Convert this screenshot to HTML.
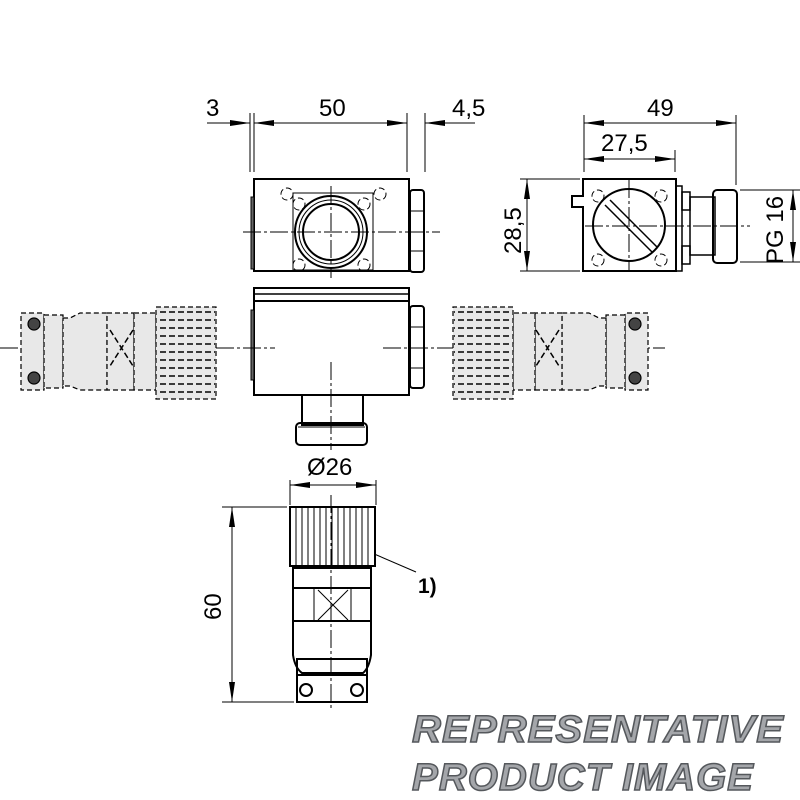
<!DOCTYPE html>
<html><head><style>body{margin:0;background:#fff}svg{display:block}
.w{font-family:"Liberation Sans",sans-serif;font-style:italic;font-weight:bold;font-size:38px;fill:#a4a6aa;stroke:#55585c;stroke-width:1.5;letter-spacing:1px}
</style></head><body>
<svg width="800" height="800" viewBox="0 0 800 800" xmlns="http://www.w3.org/2000/svg">
<defs>
<marker id="b" viewBox="0 0 20 6" refX="20" refY="3" markerWidth="20" markerHeight="6" orient="auto-start-reverse" markerUnits="userSpaceOnUse"><path d="M0,0L20,3L0,6z" fill="#000"/></marker>
</defs>
<g font-family="Liberation Sans,sans-serif" font-size="24" fill="#000">
<g stroke="#000" stroke-width="1">
<line x1="250" y1="113" x2="250" y2="172"/><line x1="254" y1="113" x2="254" y2="172"/>
<line x1="407" y1="113" x2="407" y2="172"/><line x1="425" y1="113" x2="425" y2="172"/>
<line x1="207" y1="123" x2="250" y2="123" marker-end="url(#b)"/>
<line x1="254" y1="123" x2="407" y2="123" marker-start="url(#b)" marker-end="url(#b)"/>
<line x1="475" y1="123" x2="425" y2="123" marker-end="url(#b)"/>
<line x1="584" y1="115" x2="584" y2="172"/><line x1="736" y1="115" x2="736" y2="185"/><line x1="675" y1="150" x2="675" y2="172"/>
<line x1="584" y1="123" x2="736" y2="123" marker-start="url(#b)" marker-end="url(#b)"/>
<line x1="584" y1="159" x2="675" y2="159" marker-start="url(#b)" marker-end="url(#b)"/>
<line x1="520" y1="179" x2="580" y2="179"/><line x1="520" y1="271" x2="580" y2="271"/>
<line x1="527" y1="179" x2="527" y2="271" marker-start="url(#b)" marker-end="url(#b)"/>
<line x1="740" y1="190" x2="800" y2="190"/><line x1="740" y1="262" x2="800" y2="262"/>
<line x1="793" y1="190" x2="793" y2="262" marker-start="url(#b)" marker-end="url(#b)"/>
</g>
<text x="206" y="116">3</text><text x="319" y="116">50</text><text x="452" y="116">4,5</text>
<text x="647" y="116">49</text><text x="601" y="151">27,5</text>
<text transform="translate(521,254) rotate(-90)">28,5</text>
<text transform="translate(783,264) rotate(-90)">PG 16</text>

<g stroke="#000" fill="none" stroke-width="2">
<rect x="254" y="179" width="155" height="92" fill="#fff"/>
<rect x="251" y="197" width="3" height="72" fill="#666" stroke-width="1"/>
<rect x="410" y="190" width="14" height="82" rx="3"/>
<line x1="410" y1="211" x2="424" y2="211" stroke-width="1"/><line x1="410" y1="251" x2="424" y2="251" stroke-width="1"/>
<circle cx="331" cy="232" r="36"/><circle cx="331" cy="232" r="32" stroke-width="1"/><circle cx="331" cy="232" r="28"/>
<path d="M293,193 H373 V270 H293z" stroke-width="1"/>
<g stroke-width="1" stroke-dasharray="6,3">
<circle cx="287" cy="194" r="6"/><circle cx="380" cy="194" r="6"/><circle cx="299" cy="204" r="6"/><circle cx="364" cy="204" r="6"/>
<circle cx="299" cy="265" r="6"/><circle cx="364" cy="265" r="6"/></g>
<g stroke-width="1" stroke-dasharray="18,3,3,3">
<line x1="243" y1="232" x2="440" y2="232"/><line x1="331" y1="186" x2="331" y2="278"/></g>
</g>
<g stroke="#000" fill="none" stroke-width="2">
<rect x="254" y="288" width="155" height="107" fill="#fff"/>
<line x1="254" y1="294" x2="409" y2="294" stroke-width="1.5"/><line x1="254" y1="301" x2="409" y2="301"/>
<rect x="251" y="310" width="3" height="70" fill="#666" stroke-width="1"/>
<rect x="410" y="306" width="14" height="82" rx="3"/>
<line x1="410" y1="327" x2="424" y2="327" stroke-width="1"/><line x1="410" y1="368" x2="424" y2="368" stroke-width="1"/>
<rect x="302" y="395" width="61" height="30"/>
<rect x="296" y="423" width="71" height="22" rx="4"/>
<line x1="298" y1="427" x2="365" y2="427" stroke-width="1"/>
<g stroke-width="1" stroke-dasharray="18,3,3,3">
<line x1="0" y1="348" x2="275" y2="348"/><line x1="383" y1="348" x2="665" y2="348"/><line x1="331" y1="362" x2="331" y2="450"/></g>
</g>
<g id="dc" stroke="#000" fill="#e8e8e8" stroke-width="1.2" stroke-dasharray="5,3">
<rect x="21" y="313" width="23" height="77"/>
<rect x="44" y="315" width="19" height="73"/>
<path d="M63,318 H70 L80,313 H107 V390 H80 L70,386 H63z"/>
<rect x="107" y="313" width="27" height="77"/>
<rect x="134" y="313" width="22" height="77"/>
<rect x="156" y="307" width="60" height="92"/>
<g fill="none" stroke-width="1.5" stroke-dasharray="6,3">
<line x1="160" y1="312" x2="215" y2="312"/><line x1="160" y1="320" x2="215" y2="320"/><line x1="160" y1="328" x2="215" y2="328"/><line x1="160" y1="336" x2="215" y2="336"/><line x1="160" y1="344" x2="215" y2="344"/><line x1="160" y1="352" x2="215" y2="352"/><line x1="160" y1="360" x2="215" y2="360"/><line x1="160" y1="368" x2="215" y2="368"/><line x1="160" y1="376" x2="215" y2="376"/><line x1="160" y1="384" x2="215" y2="384"/><line x1="160" y1="392" x2="215" y2="392"/>
<path d="M110,330 L133,366 M133,330 L110,366"/></g>
<circle cx="34" cy="324" r="6" fill="#444" stroke-dasharray="none"/><circle cx="34" cy="378" r="6" fill="#444" stroke-dasharray="none"/>
</g>
<use href="#dc" transform="translate(669,0) scale(-1,1)"/>
<g stroke="#000" fill="none" stroke-width="2">
<path d="M583,179 H676 V271 H583 V207 H572 V196 H583z" fill="#fff"/>
<circle cx="629" cy="225" r="36"/>
<path d="M605,205 L652,252 M610,200 L657,247" stroke-width="1.5"/>
<rect x="676" y="186" width="6" height="85" stroke-width="1.5"/>
<rect x="682" y="192" width="8" height="18" stroke-width="1.5"/><rect x="682" y="246" width="8" height="18" stroke-width="1.5"/>
<rect x="690" y="197" width="25" height="58" stroke-width="1.5"/>
<rect x="713" y="190" width="24" height="73" rx="4"/>
<g stroke-width="1" stroke-dasharray="6,3"><circle cx="598" cy="196" r="6"/><circle cx="661" cy="196" r="6"/><circle cx="598" cy="260" r="6"/><circle cx="661" cy="260" r="6"/></g>
<g stroke-width="1" stroke-dasharray="18,3,3,3"><line x1="585" y1="226" x2="750" y2="226"/><line x1="629" y1="180" x2="629" y2="270"/></g>
</g>
<g stroke="#000" fill="none" stroke-width="1">
<line x1="290" y1="480" x2="290" y2="505"/><line x1="376" y1="480" x2="376" y2="505"/>
<line x1="290" y1="485" x2="376" y2="485" marker-start="url(#b)" marker-end="url(#b)"/>
<line x1="222" y1="507" x2="287" y2="507"/><line x1="222" y1="702" x2="294" y2="702"/>
<line x1="232" y1="507" x2="232" y2="702" marker-start="url(#b)" marker-end="url(#b)"/>
<line x1="365" y1="550" x2="416" y2="572"/>
</g>
<text x="307" y="475">Ø26</text>
<text transform="translate(221,620) rotate(-90)">60</text>
<text x="418" y="593" font-weight="bold" font-size="21">1)</text>
<g stroke="#000" fill="none" stroke-width="2">
<rect x="290" y="507" width="85" height="59" fill="#fff"/>
<path d="M296,507v59M302,507v59M308,507v59M314,507v59M320,507v59M326,507v59M332,507v59M338,507v59M344,507v59M350,507v59M356,507v59M362,507v59M368,507v59" stroke-width="1"/>
<rect x="293" y="568" width="78" height="20"/>
<rect x="293" y="588" width="78" height="33"/>
<path d="M314,588v33M351,588v33M318,590L348,620M348,590L318,620" stroke-width="1"/>
<path d="M293,621 V655 Q295,668 302,673 H363 Q369,668 371,655 V621"/>
<rect x="297" y="659" width="70" height="43"/>
<line x1="297" y1="675" x2="367" y2="675"/>
<circle cx="306" cy="690" r="6"/><circle cx="357" cy="690" r="6"/>
<line x1="331" y1="495" x2="331" y2="710" stroke-width="1" stroke-dasharray="18,3,3,3"/>
</g>
</g>
<text class="w" x="412" y="742" textLength="372" lengthAdjust="spacingAndGlyphs">REPRESENTATIVE</text>
<text class="w" x="412" y="790" textLength="342" lengthAdjust="spacingAndGlyphs">PRODUCT  IMAGE</text>
</svg>
</body></html>
